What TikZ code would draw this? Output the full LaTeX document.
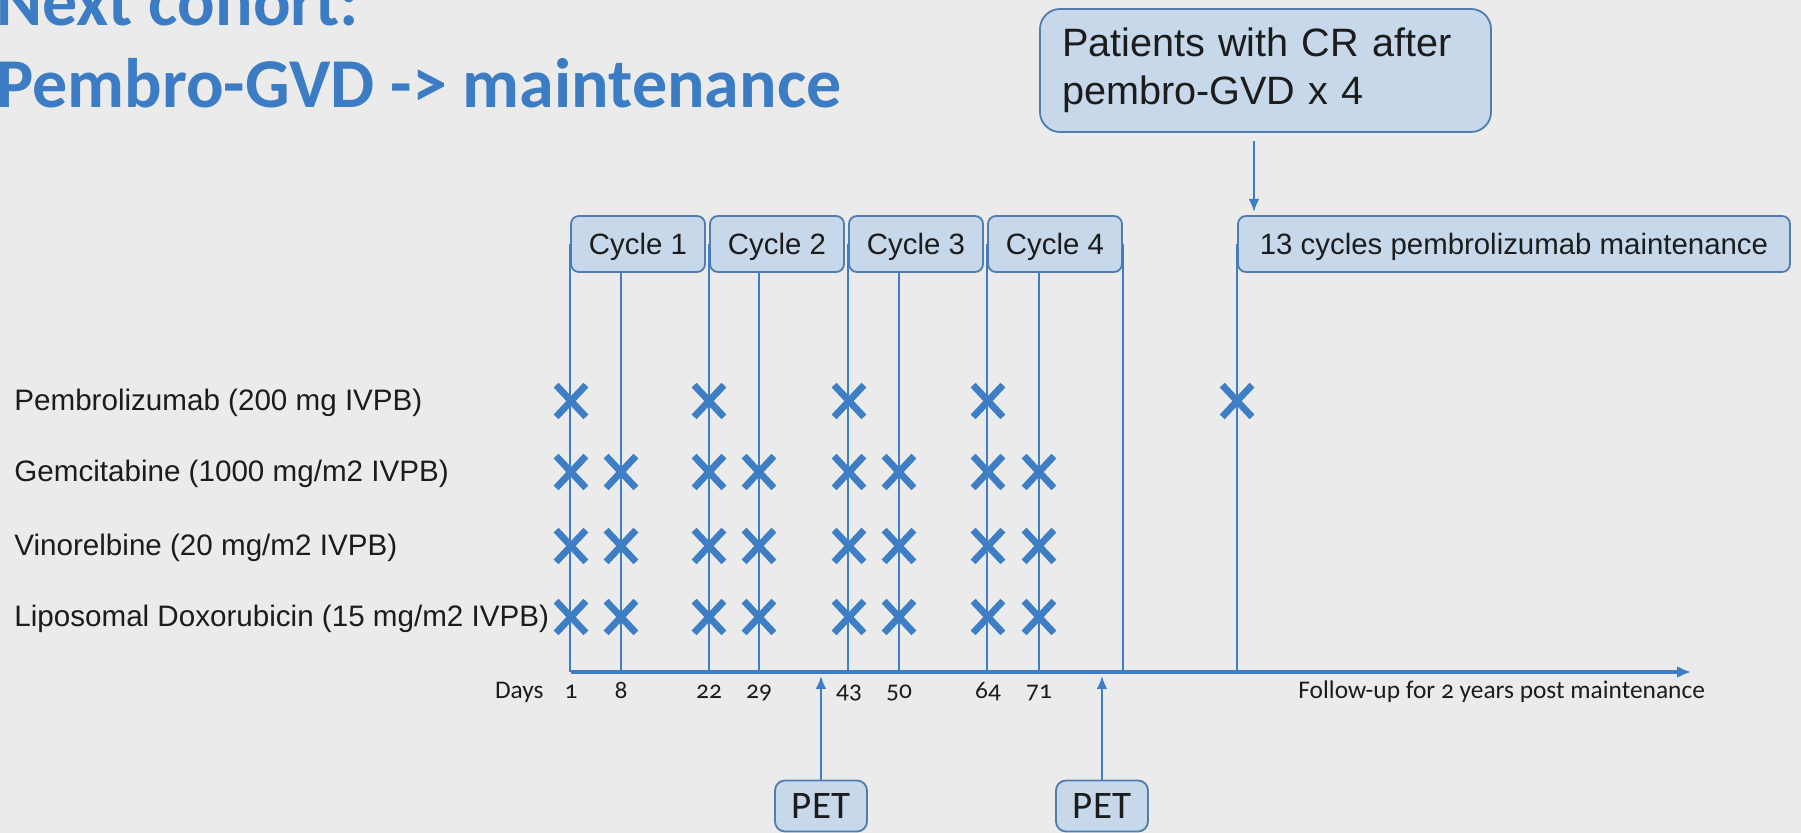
\documentclass[tikz,border=0pt]{standalone}
\usepackage{fontspec}
\setmainfont{Liberation Sans}
\newfontfamily\slidefont{Carlito}[Numbers=OldStyle]
\usetikzlibrary{arrows, arrows.meta, shapes.misc, calc, positioning}
\definecolor{slideBg}{HTML}{EBEBEB}
\definecolor{titleBlue}{HTML}{3B7CC4}
\definecolor{lineBlue}{HTML}{3E7EC4}
\definecolor{boxFill}{HTML}{C6D8EA}
\definecolor{boxLine}{HTML}{507DAE}
\definecolor{inkGrey}{HTML}{1C1C1C}
\tikzset{
    titleText/.style={anchor=base west, inner sep=0pt, text=titleBlue, font=\slidefont\bfseries\fontsize{35}{40}\selectfont},
    cycleBox/.style={rectangle, rounded corners=4pt, draw=boxLine, line width=0.9pt, fill=boxFill, minimum width=67pt, minimum height=28pt, inner sep=0pt, text depth=0pt, text=inkGrey, font=\fontsize{14.7}{17}\selectfont},
    crBox/.style={rectangle, rounded corners=10pt, draw=boxLine, line width=0.9pt, fill=boxFill, minimum height=61.5pt, text width=203.5pt, inner xsep=11pt, inner ysep=0pt, align=left, text=inkGrey, font=\fontsize{19.8}{22}\selectfont},
    petBox/.style={rectangle, rounded corners=5pt, draw=boxLine, line width=0.9pt, fill=boxFill, minimum width=46pt, minimum height=25.5pt, inner sep=0pt, text depth=0pt, text=inkGrey, font=\slidefont\fontsize{19.5}{22}\selectfont},
    drugLabel/.style={anchor=base west, inner sep=0pt, text=inkGrey, font=\fontsize{14.8}{18}\selectfont},
    dayLabel/.style={anchor=base, inner sep=0pt, text=inkGrey, font=\slidefont\fontsize{12.7}{15}\selectfont},
    dose/.style={cross out, draw=lineBlue, line width=3.4pt, minimum width=11.5pt, minimum height=12.5pt, inner sep=0pt},
    timeLine/.style={lineBlue, line width=1.2pt},
    timeArrow/.style={-{Latex[length=7pt, width=6pt]}, lineBlue, line width=1.6pt},
    linkArrow/.style={-{Latex[length=6.5pt, width=5.5pt]}, lineBlue, line width=1.2pt},
}
\newcommand{\dose}[3]{
    \node[dose] (#1) at (#2 |- #3) {};
}
\newcommand{\dayTick}[3]{
    \coordinate (#1) at (#2, 672);
    \node[dayLabel] (t#1) at (#2, 699) {#3};
}

\begin{document}
\begin{tikzpicture}[x=0.5pt, y=-0.5pt]

        \useasboundingbox (0,0) rectangle (1801,833);
        \clip (0,0) rectangle (1801,833);
        \fill[slideBg] (0,0) rectangle (1801,833);

        % title
        \node[titleText] (title1) at (-4, 26) {Next cohort:};
        \node[titleText] (title2) at (-4, 108) {Pembro-GVD -> maintenance};

        % boxes
        \node[crBox] (crbox) at (1265.5, 70.5) {\vspace{2pt}Patients with CR after\\pembro-GVD x 4};
        \node[cycleBox] (c1) at (638, 244) {Cycle 1};
        \node[cycleBox, right=1.6pt of c1] (c2) {Cycle 2};
        \node[cycleBox, right=1.6pt of c2] (c3) {Cycle 3};
        \node[cycleBox, right=1.6pt of c3] (c4) {Cycle 4};
        \node[cycleBox, minimum width=276pt] (maint) at (1514, 244) {13 cycles pembrolizumab maintenance};
        \node[petBox] (pet1) at (821, 806) {PET};
        \node[petBox] (pet2) at (1102, 806) {PET};

        % time axis
        \coordinate (ax0) at (571, 672);
        \coordinate (axEnd) at (1691, 672);
        \dayTick{d1}{571}{1}
        \dayTick{d8}{621}{8}
        \dayTick{d22}{709}{22}
        \dayTick{d29}{759}{29}
        \dayTick{d43}{849}{43}
        \dayTick{d50}{899}{50}
        \dayTick{d64}{988}{64}
        \dayTick{d71}{1039}{71}
        \node[dayLabel, anchor=base east] (days) at (544, 699) {Days};
        \node[dayLabel, anchor=base west] (follow) at (1298, 699) {Follow-up for 2 years post maintenance};

        \draw[timeLine] (c1.west) -- (c1.west |- ax0);
        \draw[timeLine] (d8 |- c1.south) -- (d8);
        \draw[timeLine] (c2.west) -- (c2.west |- ax0);
        \draw[timeLine] (d29 |- c2.south) -- (d29);
        \draw[timeLine] (c3.west) -- (c3.west |- ax0);
        \draw[timeLine] (d50 |- c3.south) -- (d50);
        \draw[timeLine] (c4.west) -- (c4.west |- ax0);
        \draw[timeLine] (d71 |- c4.south) -- (d71);
        \draw[timeLine] (c4.east) -- (c4.east |- ax0);
        \draw[timeLine] (maint.west) -- (maint.west |- ax0);
        \draw[timeArrow] (ax0) -- (axEnd);

        \coordinate (mtip) at (1254, 212);
        \draw[linkArrow] ($(crbox.south -| mtip)+(0,8)$) -- (mtip);
        \draw[linkArrow] (pet1.north) -- ($(pet1.north |- ax0)+(0,4)$);
        \draw[linkArrow] (pet2.north) -- ($(pet2.north |- ax0)+(0,4)$);

        % drugs
        \coordinate (rowP) at (0, 401);
        \coordinate (rowG) at (0, 472);
        \coordinate (rowV) at (0, 546);
        \coordinate (rowL) at (0, 617);
        \node[drugLabel] (lblP) at (14, 411) {Pembrolizumab (200 mg IVPB)};
        \node[drugLabel] (lblG) at (14, 482) {Gemcitabine (1000 mg/m2 IVPB)};
        \node[drugLabel] (lblV) at (14, 556) {Vinorelbine (20 mg/m2 IVPB)};
        \node[drugLabel] (lblL) at (14, 627) {Liposomal Doxorubicin (15 mg/m2 IVPB)};

        \dose{p1}{d1}{rowP}
        \dose{p22}{d22}{rowP}
        \dose{p43}{d43}{rowP}
        \dose{p64}{d64}{rowP}
        \dose{pm}{maint.west}{rowP}

        \dose{g1}{d1}{rowG}
        \dose{g8}{d8}{rowG}
        \dose{g22}{d22}{rowG}
        \dose{g29}{d29}{rowG}
        \dose{g43}{d43}{rowG}
        \dose{g50}{d50}{rowG}
        \dose{g64}{d64}{rowG}
        \dose{g71}{d71}{rowG}

        \dose{v1}{d1}{rowV}
        \dose{v8}{d8}{rowV}
        \dose{v22}{d22}{rowV}
        \dose{v29}{d29}{rowV}
        \dose{v43}{d43}{rowV}
        \dose{v50}{d50}{rowV}
        \dose{v64}{d64}{rowV}
        \dose{v71}{d71}{rowV}

        \dose{l1}{d1}{rowL}
        \dose{l8}{d8}{rowL}
        \dose{l22}{d22}{rowL}
        \dose{l29}{d29}{rowL}
        \dose{l43}{d43}{rowL}
        \dose{l50}{d50}{rowL}
        \dose{l64}{d64}{rowL}
        \dose{l71}{d71}{rowL}

    \end{tikzpicture}
\end{document}
